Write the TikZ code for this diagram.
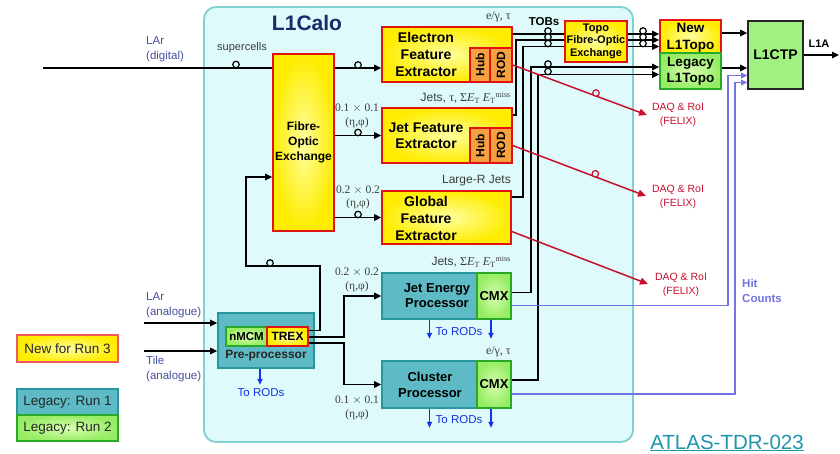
\documentclass[tikz,border=0pt]{standalone}
\usepackage{fontspec}
\setmainfont{Liberation Sans}
\newfontfamily\serif{Liberation Serif}
\usetikzlibrary{arrows.meta,calc}
\newcommand\fsz[2]{\fontsize{#1}{#2}\selectfont}
\definecolor{calobg}{RGB}{222,250,250}
\definecolor{caloedge}{RGB}{128,208,210}
\definecolor{yel}{RGB}{255,236,0}
\definecolor{yellight}{RGB}{255,255,160}
\definecolor{redb}{RGB}{225,20,20}
\definecolor{orng}{RGB}{246,160,64}
\definecolor{teal1}{RGB}{94,186,196}
\definecolor{tealb}{RGB}{40,150,158}
\definecolor{grn}{RGB}{150,236,100}
\definecolor{grnlight}{RGB}{215,255,175}
\definecolor{grnb}{RGB}{40,170,40}
\definecolor{ctpg}{RGB}{160,240,130}
\definecolor{daq}{RGB}{200,16,46}
\definecolor{rodblue}{RGB}{20,50,230}
\definecolor{hitb}{RGB}{115,115,225}
\definecolor{inlab}{RGB}{70,80,160}
\definecolor{gr}{RGB}{60,60,60}
\definecolor{navy}{RGB}{28,42,106}
\definecolor{atlas}{RGB}{30,150,170}
\tikzset{
  newbox/.style={draw=redb, line width=1.6pt, inner color=yellight, outer color=yel, inner sep=0pt},
  hubbox/.style={draw=redb, line width=1.4pt, fill=orng, inner sep=0pt},
  tealbox/.style={draw=tealb, line width=1.6pt, fill=teal1, inner sep=0pt},
  cmxbox/.style={draw=grnb, line width=1.6pt, inner color=grnlight, outer color=grn, inner sep=0pt},
  boxtxt/.style={font=\bfseries\fsz{14}{17}, align=center, inner sep=0pt},
  boxtxtm/.style={font=\bfseries\fsz{13}{15.5}, align=center, inner sep=0pt},
  rot/.style={font=\bfseries\fsz{12}{14}, rotate=90, inner sep=0pt},
  conn/.style={line width=1.5pt, draw=black},
  arr/.style={conn, -{Triangle[length=7pt,width=6.5pt]}},
  daqarr/.style={line width=1.5pt, draw=daq, -{Triangle[length=8pt,width=7pt]}},
  rodarr/.style={line width=1.5pt, draw=rodblue, -{Triangle[length=6pt,width=5pt]}},
  hit/.style={line width=1.4pt, draw=hitb, -{Triangle[length=6pt,width=5.5pt]}},
  fib/.style={circle, draw=black, line width=1.2pt, fill=calobg, inner sep=0pt, minimum size=6.5pt},
  fibw/.style={fib, fill=white},
  fibr/.style={fib, draw=daq},
  lab/.style={font=\fsz{12}{14}, text=gr, inner sep=0pt},
  slab/.style={font=\serif\fsz{11.5}{13.5}, text=gr, align=center, inner sep=0pt},
  inl/.style={font=\fsz{11.5}{15}, text=inlab, align=left, inner sep=0pt, anchor=west},
  daqtxt/.style={font=\fsz{10.5}{14}, text=daq, align=center, inner sep=0pt},
  rodtxt/.style={font=\fsz{11.5}{13}, text=rodblue, inner sep=0pt},
  legtxt/.style={font=\fsz{13.5}{15}, text=black!85}
}
\begin{document}
\begin{tikzpicture}[x=1pt,y=-1pt]
\useasboundingbox (0,0) rectangle (840,454);
\fill[white] (0,0) rectangle (840,454);
% L1Calo region
\node[draw=caloedge, line width=1.8pt, fill=calobg, rounded corners=12pt, minimum width=429, minimum height=435, inner sep=0pt] (calo) at (418.5,224.5) {};
\node[font=\bfseries\fsz{21}{24}, text=navy, inner sep=0pt] (calotitle) at (307,23) {L1Calo};

% Fibre-optic exchange
\node[newbox, minimum width=61, minimum height=177] (foe) at (303.5,142.5) {};
\node[font=\bfseries\fsz{12}{15}, align=center, inner sep=0pt] (foet) at (foe) {Fibre-\\Optic\\Exchange};

% eFEX
\node[newbox, minimum width=130, minimum height=55] (efex) at (447,54.5) {};
\node[hubbox, minimum width=20, minimum height=34] (hub1) at (480,65) {};
\node[hubbox, minimum width=22, minimum height=34] (rod1) at (501,65) {};
\node[boxtxt] (efext) at (426,54) {Electron\\Feature\\Extractor};
\node[rot] (hub1t) at (hub1) {Hub};
\node[rot] (rod1t) at (rod1) {ROD};

% jFEX
\node[newbox, minimum width=130, minimum height=55] (jfex) at (447,135.5) {};
\node[hubbox, minimum width=20, minimum height=35] (hub2) at (480,145.5) {};
\node[hubbox, minimum width=22, minimum height=35] (rod2) at (501,145.5) {};
\node[boxtxt, font=\bfseries\fsz{14}{16}] (jfext) at (426,136) {Jet Feature\\Extractor};
\node[rot] (hub2t) at (hub2) {Hub};
\node[rot] (rod2t) at (rod2) {ROD};

% gFEX
\node[newbox, minimum width=129, minimum height=53] (gfex) at (446.5,217.5) {};
\node[boxtxt] (gfext) at (426,218) {Global\\Feature\\Extractor};

% JEP and CP
\node[tealbox, minimum width=95, minimum height=46] (jep) at (429.5,296) {};
\node[cmxbox, minimum width=34, minimum height=46] (jepcmx) at (494,296) {};
\node[boxtxtm] (jept) at (437,295.5) {Jet Energy\\Processor};
\node[font=\bfseries\fsz{13}{15}, inner sep=0pt] (jepcmxt) at (jepcmx) {CMX};
\node[tealbox, minimum width=95, minimum height=47] (cp) at (429.5,384.5) {};
\node[cmxbox, minimum width=34, minimum height=47] (cpcmx) at (494,384.5) {};
\node[boxtxtm] (cpt) at (430,385) {Cluster\\Processor};
\node[font=\bfseries\fsz{13}{15}, inner sep=0pt] (cpcmxt) at (cpcmx) {CMX};

% Pre-processor
\node[tealbox, minimum width=96, minimum height=55] (pre) at (266,340.5) {};
\node[cmxbox, line width=1.4pt, minimum width=41, minimum height=19, font=\bfseries\fsz{11.5}{13}] (nmcm) at (246.5,336.5) {nMCM};
\node[newbox, line width=1.4pt, minimum width=41, minimum height=19, font=\bfseries\fsz{12}{13}] (trex) at (287.5,336.5) {TREX};
\node[font=\bfseries\fsz{12}{14}, text=black!85, inner sep=0pt] (pret) at (266,356) {Pre-processor};

% Topo FOE, L1Topo, L1CTP
\node[newbox, minimum width=62, minimum height=41] (tfoe) at (596,41.5) {};
\node[font=\bfseries\fsz{11}{12.5}, align=center, inner sep=0pt] (tfoet) at (596,41) {Topo\\Fibre-Optic\\Exchange};
\node[newbox, minimum width=61, minimum height=33] (newtopo) at (690.5,36.5) {};
\node[font=\bfseries\fsz{13.5}{17}, align=center, inner sep=0pt] (newtopot) at (690.5,37.5) {New\\L1Topo};
\node[cmxbox, minimum width=61, minimum height=36] (legacy) at (690.5,71) {};
\node[font=\bfseries\fsz{13.5}{16}, align=center, inner sep=0pt] (legacyt) at (690.5,71) {Legacy\\L1Topo};
\node[draw=black!85, line width=1.6pt, fill=ctpg, minimum width=55, minimum height=68, inner sep=0pt, font=\bfseries\fsz{14}{16}] (l1ctp) at (775.5,55) {L1CTP};

% Legend
\node[draw={rgb,255:red,240;green,90;blue,90}, line width=1.2pt, inner color=yellight, outer color=yel, minimum width=101, minimum height=27, inner sep=0pt, legtxt] (leg1) at (67.5,348.5) {New for Run 3};
\node[tealbox, line width=1.2pt, minimum width=101, minimum height=26, legtxt] (leg2) at (67.5,402) {Legacy: Run 1};
\node[cmxbox, line width=1.2pt, minimum width=101, minimum height=26, legtxt] (leg3) at (67.5,428) {Legacy: Run 2};

% level coordinates
\coordinate (lardig) at (43,68);
\coordinate (ya) at (0,34);
\coordinate (yb) at (0,40);
\coordinate (yc) at (0,46.5);
\coordinate (yf) at (0,33);
\coordinate (yg) at (0,68);
\coordinate (j1) at (516,40);
\coordinate (g1) at (523,46.5);
\coordinate (p1) at (531,67);
\coordinate (c1) at (538,74.5);
\coordinate (h1) at (728,75.5);
\coordinate (h2) at (735,82.5);
\coordinate (k1) at (320,266);
\coordinate (k2) at (246,177);
\coordinate (laran) at (144,323);
\coordinate (tilean) at (144,351);
\coordinate (l1aend) at (839,55);
\coordinate (daq1) at (647,115);
\coordinate (daq2) at (646,196);
\coordinate (daq3) at (648,284);

% inputs
\draw[conn] (lardig) -- (foe.west |- lardig);
\draw[arr] (laran) -- (pre.west |- laran);
\draw[arr] (tilean) -- (pre.west |- tilean);

% FOE -> FEXes
\draw[arr] (foe.east |- lardig) -- (efex.west |- lardig);
\draw[arr] (foe.east |- jfex.west) -- (jfex.west);
\draw[arr] (foe.east |- gfex.west) -- (gfex.west);

% TREX outputs
\draw[arr] ($(trex.east)+(0,-6)$) -| (k1) -| (k2) -- (foe.west |- k2);
\draw[arr] ($(trex.east)+(0,0.5)$) -| ($(jep.west)+(-37,0)$) -- (jep.west);
\draw[arr] ($(trex.east)+(0,6.5)$) -| ($(cp.west)+(-37,0)$) -- (cp.west);

% TOBs to Topo FOE and Legacy L1Topo
\draw[conn] (efex.east |- ya) -- (tfoe.west |- ya);
\draw[conn] ($(jfex.east)+(0,-20.5)$) -| (j1) -- (tfoe.west |- j1);
\draw[conn] ($(gfex.east)+(0,-20.5)$) -| (g1) -- (tfoe.west |- g1);
\draw[arr] ($(jepcmx.east)+(0,-3.5)$) -| (p1) -- (legacy.west |- p1);
\draw[arr] ($(cpcmx.east)+(0,-4.5)$) -| (c1) -- (legacy.west |- c1);

% Topo FOE -> New L1Topo
\draw[arr] (tfoe.east |- ya) -- (newtopo.west |- ya);
\draw[arr] (tfoe.east |- yb) -- (newtopo.west |- yb);
\draw[arr] (tfoe.east |- yc) -- (newtopo.west |- yc);

% L1Topo -> L1CTP -> L1A
\draw[arr] (newtopo.east |- yf) -- (l1ctp.west |- yf);
\draw[arr] (legacy.east |- yg) -- (l1ctp.west |- yg);
\draw[arr] (l1ctp.east) -- (l1aend);

% Hit counts
\draw[hit] ($(jepcmx.east)+(0,9.5)$) -| (h1) -- (l1ctp.west |- h1);
\draw[hit] ($(cpcmx.east)+(0,9.5)$) -| (h2) -- (l1ctp.west |- h2);

% DAQ
\draw[daqarr] (rod1.east) -- (daq1);
\draw[daqarr] (rod2.east) -- (daq2);
\draw[daqarr] ($(gfex.east)+(0,14)$) -- (daq3);
\node[fibr] (dc1) at ($(rod1.east)!0.62!(daq1)+(0,-3)$) {};
\node[fibr] (dc2) at ($(rod2.east)!0.62!(daq2)+(0,-3)$) {};
\node[fibr] (dc3) at ($(gfex.east)+(0,14)!0.62!(daq3)+(0,-3)$) {};

% To RODs
\draw[rodarr] (jep.south) -- ++(0,19);
\draw[rodarr] ($(jepcmx.south)+(-3,0)$) -- ++(0,19);
\draw[rodarr] (cp.south) -- ++(0,19);
\draw[rodarr] ($(cpcmx.south)+(-3,0)$) -- ++(0,19);
\draw[rodarr] ($(pre.south)+(-6,0)$) -- ++(0,16);

% fibre marks
\node[fib] (f0) at (236,64.5) {};
\node[fib] (f1) at (358,65) {};
\node[fib] (f2) at (358,132.5) {};
\node[fib] (f3) at (358,214.5) {};
\node[fib] (f4) at (270,263) {};
\node[fib] (t1) at (548,31) {};
\node[fib] (t2) at (548,37) {};
\node[fib] (t3) at (548,43.5) {};
\node[fib] (t4) at (548,64) {};
\node[fib] (t5) at (548,71.5) {};
\node[fibw] (o1) at (643,31) {};
\node[fibw] (o2) at (643,37) {};
\node[fibw] (o3) at (643,43.5) {};

% labels
\node[inl] (lardigt) at (146,49) {LAr\\(digital)};
\node[inl] (larant) at (146,305.5) {LAr\\(analogue)};
\node[inl] (tilet) at (146,369.5) {Tile\\(analogue)};
\node[lab, font=\fsz{11}{13}] (superc) at (242,48) {supercells};
\node[slab] (g01a) at (357,116) {0.1 $\times$ 0.1\\(η,φ)};
\node[slab] (g02a) at (358,197.5) {0.2 $\times$ 0.2\\(η,φ)};
\node[slab] (g02b) at (357,280) {0.2 $\times$ 0.2\\(η,φ)};
\node[slab] (g01b) at (357,408) {0.1 $\times$ 0.1\\(η,φ)};
\node[lab, anchor=east] (lefex) at (511,17) {{\serif e/γ, τ}};
\node[lab, anchor=east] (ljfex) at (511,98) {Jets, {\serif τ, Σ\textit{E}\textsubscript{T} \textit{E}\textsubscript{T}\textsuperscript{miss}}};
\node[lab, anchor=east] (lgfex) at (511,181) {Large-R Jets};
\node[lab, anchor=east] (ljep) at (511,262) {Jets, {\serif Σ\textit{E}\textsubscript{T} \textit{E}\textsubscript{T}\textsuperscript{miss}}};
\node[lab, anchor=east] (lcp) at (511,352) {{\serif e/γ, τ}};
\node[font=\bfseries\fsz{11.5}{13}, inner sep=0pt] (tobs) at (544,22) {TOBs};
\node[font=\bfseries\fsz{11}{13}, inner sep=0pt] (l1a) at (819,44) {L1A};
\node[daqtxt] (daqt1) at (678,115) {DAQ \& RoI\\(FELIX)};
\node[daqtxt] (daqt2) at (678,197) {DAQ \& RoI\\(FELIX)};
\node[daqtxt] (daqt3) at (681,285) {DAQ \& RoI\\(FELIX)};
\node[font=\bfseries\fsz{11.5}{15}, text=hitb, align=left, anchor=west, inner sep=0pt] (hitt) at (742,290.5) {Hit\\Counts};
\node[rodtxt] (rod3t) at (459,332) {To RODs};
\node[rodtxt] (rod4t) at (459,420) {To RODs};
\node[rodtxt] (rod5t) at (261,393) {To RODs};
\node[font=\fsz{20.5}{24}, text=atlas, inner sep=0pt] (atlast) at (727,443) {\underline{ATLAS-TDR-023}};
\end{tikzpicture}
\end{document}
